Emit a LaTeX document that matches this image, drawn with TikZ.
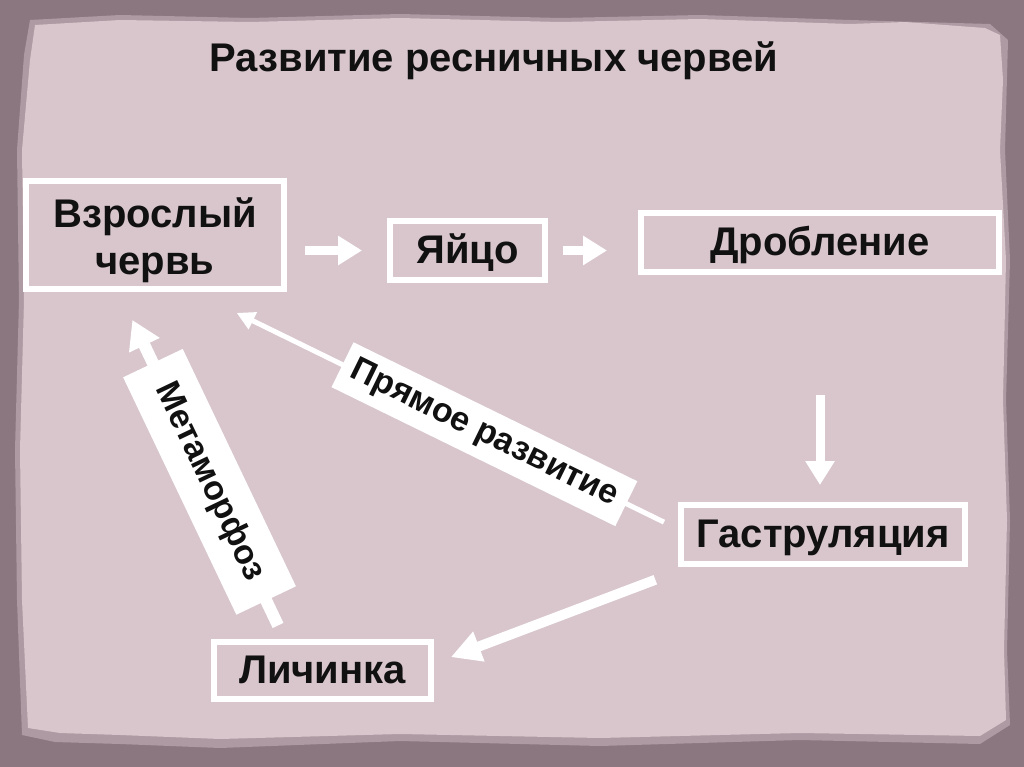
\documentclass[tikz,border=0pt]{standalone}
\usepackage{fontspec}
\setmainfont{Liberation Sans}
\usetikzlibrary{arrows.meta}
\definecolor{frame}{HTML}{8B777F}
\definecolor{fringe}{HTML}{AE9AA2}
\definecolor{paper}{HTML}{D8C6CC}
\definecolor{ink}{HTML}{111111}

\begin{document}
\begin{tikzpicture}[x=1pt, y=-1pt,
  font=\bfseries\fontsize{40}{47}\selectfont,
  box/.style={draw=white, line width=6pt, align=center, text=ink, inner sep=0pt},
  stage/.style={box, text height=29pt, text depth=4pt},
  tag/.style={fill=white, text=ink, sloped, inner sep=0pt, font=\bfseries\fontsize{34}{40}\selectfont},
  arr/.style={draw=white, line width=9pt, -{Triangle[length=24pt, width=28pt]}}]
% torn paper on a dark frame
\fill[frame] (0,0) rectangle (1024,767);
\fill[fringe] (30,20) -- (120,15) -- (250,18) -- (400,14) -- (560,18) -- (700,15) -- (850,20)
  -- (990,24) -- (1008,40) -- (1005,150) -- (1010,260) -- (1006,400) -- (1010,520) -- (1007,650)
  -- (1010,725) -- (980,744) -- (800,740) -- (600,746) -- (400,741) -- (220,748) -- (120,744)
  -- (55,742) -- (22,735) -- (17,600) -- (15,450) -- (19,300) -- (17,150) -- (24,55) -- cycle;
\fill[paper] (35,25) -- (120,20) -- (250,22) -- (400,18) -- (560,22) -- (700,19) -- (850,24)
  -- (905,22) -- (985,28) -- (1000,35) -- (1003,80) -- (1000,150) -- (1006,260) -- (1003,400)
  -- (1007,520) -- (1004,650) -- (1006,720) -- (980,736) -- (800,733) -- (600,738) -- (400,734)
  -- (220,739) -- (120,735) -- (60,733) -- (28,728) -- (22,600) -- (20,450) -- (24,300)
  -- (22,150) -- (30,60) -- cycle;
\node[text=ink, anchor=base] (title) at (494,72) {Развитие ресничных червей};
% stages
\node[box, minimum width=258pt, minimum height=108pt] (adult) at (155,235) {\rule{0pt}{41pt}Взрослый\\червь};
\node[stage, minimum width=155pt, minimum height=59pt] (egg) at (467.5,250.5) {Яйцо};
\node[stage, minimum width=358pt, minimum height=59pt] (split) at (820,242.5) {Дробление};
\node[stage, minimum width=284pt, minimum height=59pt] (gastr) at (823,534.5) {Гаструляция};
\node[stage, minimum width=217pt, minimum height=57pt] (larva) at (322.5,670.5) {Личинка};
% arrows
\draw[arr, shorten <=18pt, shorten >=25pt] (adult.east |- egg.west) -- (egg.west);
\draw[arr, shorten <=15pt, shorten >=31pt] (egg.east) -- (egg.east -| split.west);
\draw[arr, shorten <=120pt, shorten >=17pt] (split.south) -- (split.south |- gastr.north);
\draw[arr, line width=10pt, -{Triangle[length=30pt, width=30pt]}, shorten <=36pt, shorten >=18pt]
  ([xshift=11pt]gastr.south west) -- ([yshift=7pt]larva.east);
\draw[arr, line width=12pt, -{Triangle[length=28pt, width=32pt]}, shorten <=15pt, shorten >=31pt]
  ([xshift=-38pt]larva.north) -- node[tag, pos=0.453, minimum width=263pt, minimum height=66pt] {Метаморфоз}
  ([xshift=-36pt]adult.south);
\draw[arr, line width=5pt, -{Triangle[length=18pt, width=18pt]}, shorten <=15.6pt, shorten >=47.5pt]
  ([yshift=5.5pt]gastr.west) -- node[tag, pos=0.40, minimum width=316pt, minimum height=50pt] {Прямое развитие}
  ([xshift=39pt]adult.south);
\end{tikzpicture}
\end{document}
